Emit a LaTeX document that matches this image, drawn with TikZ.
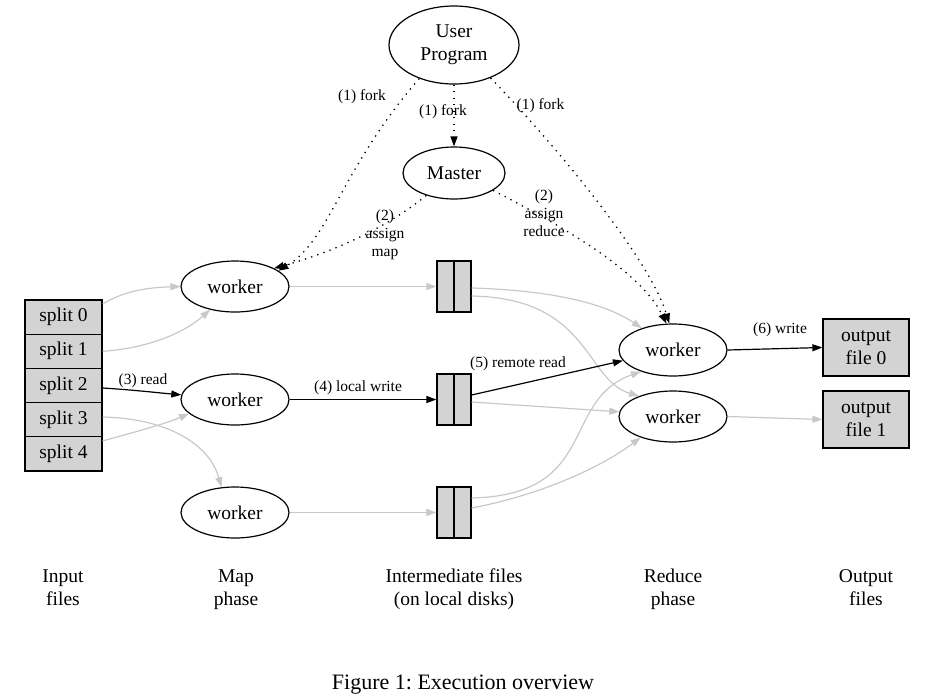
\documentclass[tikz,border=0pt]{standalone}
\usepackage{fontspec}
\setmainfont{Liberation Serif}
\usetikzlibrary{shapes.geometric,arrows.meta}
\definecolor{edgegray}{RGB}{200,200,200}
\definecolor{boxgray}{RGB}{211,211,211}
\frenchspacing
\begin{document}
\begin{tikzpicture}[x=1pt,y=-1pt,
  nf/.style={font=\fontsize{19.5pt}{23pt}\selectfont},
  lf/.style={font=\fontsize{15.5pt}{18pt}\selectfont},
  wk/.style={ellipse,draw,line width=1.2pt,inner sep=0pt,minimum width=108pt,minimum height=51pt,nf},
  splitbox/.style={rectangle,draw,fill=boxgray,line width=1.2pt,inner sep=0pt,minimum width=77pt,minimum height=34.2pt,nf},
  filebox/.style={rectangle,draw,fill=boxgray,line width=1.2pt,inner sep=0pt,minimum width=34pt,minimum height=51pt},
  outbox/.style={rectangle,draw,fill=boxgray,line width=1.2pt,inner sep=0pt,minimum width=86pt,minimum height=57pt,align=center,nf},
  lbl/.style={lf,align=center,inner sep=0pt},
  col/.style={nf,align=center,inner sep=0pt},
  tip/.style={-{Triangle[length=10pt,width=7pt]}},
  gedge/.style={tip,draw=edgegray,line width=1.2pt},
  bedge/.style={tip,draw=black,line width=1.2pt},
  dedge/.style={tip,draw=black,line width=1.3pt,dash pattern=on 1.3pt off 5.2pt}
]
\useasboundingbox (0,0) rectangle (926,697);

% nodes
\node[wk,minimum width=130pt,minimum height=78pt,align=center] (up) at (454,45) {User\\Program};
\node[wk,minimum width=102pt,minimum height=52pt] (master) at (454,173) {Master};

\node[splitbox] (s0) at (63.5,317.1) {split 0};
\node[splitbox] (s1) at (63.5,351.3) {split 1};
\node[splitbox] (s2) at (63.5,385.5) {split 2};
\node[splitbox] (s3) at (63.5,419.7) {split 3};
\node[splitbox] (s4) at (63.5,453.9) {split 4};

\node[wk] (m1) at (235,286.5) {worker};
\node[wk] (m2) at (235,399.5) {worker};
\node[wk] (m3) at (235,512.5) {worker};

\node[filebox] (f1) at (454,286.5) {};
\node[filebox] (f2) at (454,399.5) {};
\node[filebox] (f3) at (454,512.5) {};
\draw[line width=1.2pt] (f1.north) -- (f1.south);
\draw[line width=1.2pt] (f2.north) -- (f2.south);
\draw[line width=1.2pt] (f3.north) -- (f3.south);

\node[wk,minimum height=52pt] (r1) at (673,350) {worker};
\node[wk] (r2) at (673,416.5) {worker};

\node[outbox] (o0) at (866,347.5) {output\\file 0};
\node[outbox] (o1) at (866,419.5) {output\\file 1};

% dotted control edges
\draw[dedge] (up.224) .. controls (340,170) and (330,240) .. (m1.20);
\draw[dedge] (up.south) -- (master.north);
\draw[dedge] (up.318) .. controls (560,150) and (650,260) .. (r1.98);
\draw[dedge] (master.219) .. controls (390,225) and (340,250) .. (m1.25);
\draw[dedge] (master.336) .. controls (560,225) and (640,270) .. (r1.104);

\node[lbl] (lf1) at (362,97) {(1) fork};
\node[lbl] (lf2) at (443,112) {(1) fork};
\node[lbl] (lf3) at (540.5,106) {(1) fork};
\node[lbl] (la1) at (385,235) {(2)\\assign\\map};
\node[lbl] (la2) at (544,213) {(2)\\assign\\reduce};

% input to map
\draw[gedge] ([yshift=13pt]s0.east) .. controls (118,295) and (135,288) .. (m1.west);
\draw[gedge] (s1.east) .. controls (150,348) and (185,332) .. (m1.223);
\draw[bedge] ([yshift=-2.5pt]s2.east) .. controls (135,390) and (160,393) .. (m2.175);
\draw[gedge] ([yshift=2.7pt]s3.east) .. controls (160,418) and (208,440) .. (m3.118);
\draw[gedge] ([yshift=13pt]s4.east) .. controls (135,432) and (165,424) .. (m2.197);

% map to files
\draw[gedge] (m1.east) -- (f1.west);
\draw[bedge] (m2.east) -- (f2.west);
\draw[gedge] (m3.east) -- (f3.west);

% files to reduce
\draw[gedge] ([yshift=-1.5pt]f1.east) .. controls (540,290) and (600,300) .. (r1.145);
\draw[gedge] ([yshift=-9.5pt]f1.east) .. controls (590,298) and (585,380) .. (r2.149);
\draw[bedge] ([yshift=4.5pt]f2.east) -- (r1.192);
\draw[gedge] ([yshift=-2.5pt]f2.east) -- (r2.175);
\draw[gedge] ([yshift=14.5pt]f3.east) .. controls (600,495) and (560,400) .. (r1.214);
\draw[gedge] ([yshift=4.5pt]f3.east) .. controls (540,495) and (600,468) .. (r2.213);

% reduce to output
\draw[bedge] (r1.east) -- (o0.west);
\draw[gedge] (r2.east) -- (o1.west);

\node[lbl] (l3) at (143,381) {(3) read};
\node[lbl] (l4) at (358,388) {(4) local write};
\node[lbl] (l5) at (518,364) {(5) remote read};
\node[lbl] (l6) at (780,330) {(6) write};

% column titles
\node[col] (c1) at (63,589) {\strut Input\\\strut files};
\node[col] (c2) at (236,589) {\strut Map\\\strut phase};
\node[col] (c3) at (454,589) {\strut Intermediate files\\\strut (on local disks)};
\node[col] (c4) at (673,589) {\strut Reduce\\\strut phase};
\node[col] (c5) at (866,589) {\strut Output\\\strut files};

\node[anchor=base,inner sep=0pt,font=\fontsize{22pt}{26pt}\selectfont] (cap) at (463,689) {Figure 1: Execution overview};
\end{tikzpicture}
\end{document}
